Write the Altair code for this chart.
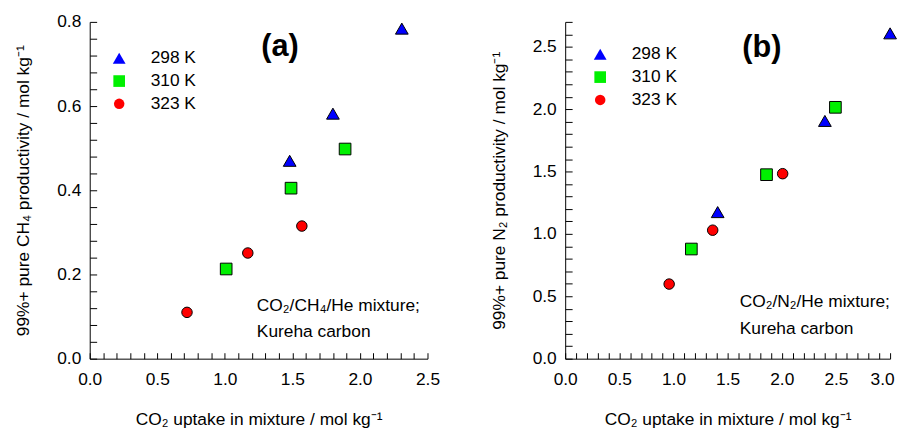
import altair as alt
import pandas as pd

# ---------------- data ----------------
temps = ["298 K", "310 K", "323 K"]
colors = ["#0000ff", "#00f000", "#ff0000"]
shapes = ["triangle-up", "square", "circle"]
sizes = [165, 112, 140]

# panel (a): CO2/CH4/He
a_x_298 = [1.48, 1.80, 2.31]
a_y_298 = [0.470, 0.582, 0.784]
a_x_310 = [1.01, 1.49, 1.89]
a_y_310 = [0.213, 0.405, 0.498]
a_x_323 = [0.72, 1.17, 1.57]
a_y_323 = [0.110, 0.251, 0.315]

# panel (b): CO2/N2/He
b_x_298 = [1.408, 2.398, 3.00]
b_y_298 = [1.175, 1.906, 2.608]
b_x_310 = [1.165, 1.859, 2.495]
b_y_310 = [0.879, 1.475, 2.015]
b_x_323 = [0.960, 1.362, 2.008]
b_y_323 = [0.598, 1.030, 1.483]

a_xlabels = [0.0, 0.5, 1.0, 1.5, 2.0, 2.5]
a_ylabels = [0.0, 0.2, 0.4, 0.6, 0.8]
b_xlabels = [0.0, 0.5, 1.0, 1.5, 2.0, 2.5, 3.0]
b_ylabels = [0.0, 0.5, 1.0, 1.5, 2.0, 2.5]

a_xticks = [round(i * 0.1, 2) for i in range(26)]
a_yticks = [round(i * 0.04, 2) for i in range(21)]
b_xticks = [round(i * 0.1, 2) for i in range(31)]
b_yticks = [round(i * 0.1, 2) for i in range(28)]

xtitle = "CO\u2082 uptake in mixture / mol kg\u207b\u00b9"
a_ytitle = "99%+ pure CH\u2084 productivity / mol kg\u207b\u00b9"
b_ytitle = "99%+ pure N\u2082 productivity / mol kg\u207b\u00b9"

a_notes = ["CO\u2082/CH\u2084/He mixture;", "Kureha carbon"]
a_note_x = [1.237, 1.237]
a_note_y = [0.113, 0.052]
b_notes = ["CO\u2082/N\u2082/He mixture;", "Kureha carbon"]
b_note_x = [1.612, 1.612]
b_note_y = [0.411, 0.197]

FONT = "Liberation Sans"
FS = 17.5


def points_df(xs_list, ys_list):
    rows = []
    for t, xs, ys in zip(temps, xs_list, ys_list):
        for x, y in zip(xs, ys):
            rows.append({"temp": t, "x": x, "y": y})
    return pd.DataFrame(rows)


def panel(df, xmax, ymax, xlabels, ylabels, xticks, yticks, ytitle,
          tag, tag_x, tag_y, notes, note_x, note_y, leg_x, leg_y, w, h,
          last_label_shift=0):
    xs = alt.Scale(domain=[0, xmax], nice=False, zero=False)
    ys = alt.Scale(domain=[0, ymax], nice=False, zero=False)
    leg = alt.Legend(
        title=None, orient="none", legendX=leg_x, legendY=leg_y,
        labelFontSize=FS, labelFont=FONT, labelColor="black",
        labelOffset=23, rowPadding=4, padding=0,
        symbolStrokeColor="black", symbolStrokeWidth=1, symbolOpacity=1,
    )
    xlab_offset = {"condition": {"test": f"datum.value === {xmax}",
                                 "value": last_label_shift}, "value": 0}
    pts = alt.Chart(df).mark_point(
        filled=True, stroke="black", strokeWidth=1, opacity=1
    ).encode(
        x=alt.X("x:Q", scale=xs, axis=alt.Axis(
            orient="bottom", values=xlabels, format=".1f", domain=True,
            ticks=False, tickSize=0, grid=False, labelFlush=False,
            labelOffset=xlab_offset,
            labelPadding=12, title=xtitle, titlePadding=23)),
        y=alt.Y("y:Q", scale=ys, axis=alt.Axis(
            orient="left", values=ylabels, format=".1f", domain=True,
            ticks=False, tickSize=0, grid=False, labelFlush=False,
            labelPadding=9, title=ytitle, titlePadding=24)),
        color=alt.Color("temp:N", scale=alt.Scale(domain=temps, range=colors), legend=leg),
        shape=alt.Shape("temp:N", scale=alt.Scale(domain=temps, range=shapes), legend=leg),
        size=alt.Size("temp:N", scale=alt.Scale(domain=temps, range=sizes), legend=leg),
    )
    tks = alt.Chart(df).mark_point(opacity=0, size=1).encode(
        x=alt.X("x:Q", scale=xs, axis=alt.Axis(
            orient="bottom", values=xticks, labels=False, domain=False,
            grid=False, ticks=True, tickSize=6, offset=-6, title=None)),
        y=alt.Y("y:Q", scale=ys, axis=alt.Axis(
            orient="left", values=yticks, labels=False, domain=False,
            grid=False, ticks=True, tickSize=7, offset=-7, title=None)),
    )
    tag_df = pd.DataFrame({"t": [tag], "x": [tag_x], "y": [tag_y]})
    tg = alt.Chart(tag_df).mark_text(
        font=FONT, fontSize=31, fontWeight="bold", color="black",
        align="center", baseline="middle"
    ).encode(
        x=alt.X("x:Q", scale=xs, axis=None),
        y=alt.Y("y:Q", scale=ys, axis=None),
        text="t:N",
    )
    note_df = pd.DataFrame({"t": notes, "x": note_x, "y": note_y})
    nt = alt.Chart(note_df).mark_text(
        font=FONT, fontSize=FS, color="black", align="left", baseline="alphabetic"
    ).encode(
        x=alt.X("x:Q", scale=xs, axis=None),
        y=alt.Y("y:Q", scale=ys, axis=None),
        text="t:N",
    )
    return alt.layer(pts, tks, tg, nt).resolve_axis(
        x="independent", y="independent"
    ).properties(width=w, height=h)


df_a = points_df([a_x_298, a_x_310, a_x_323], [a_y_298, a_y_310, a_y_323])
df_b = points_df([b_x_298, b_x_310, b_x_323], [b_y_298, b_y_310, b_y_323])

left = panel(df_a, 2.5, 0.8, a_xlabels, a_ylabels, a_xticks, a_yticks, a_ytitle,
             "(a)", 1.408, 0.74, a_notes, a_note_x, a_note_y, 21, 28, 341, 340)
right = panel(df_b, 3.0, 2.7, b_xlabels, b_ylabels, b_xticks, b_yticks, b_ytitle,
              "(b)", 1.816, 2.49, b_notes, b_note_x, b_note_y, 26.6, 24, 328, 340,
              last_label_shift=-8)

chart = alt.hconcat(left, right, spacing=139).resolve_scale(
    color="independent", shape="independent", size="independent"
).resolve_legend(
    color="independent", shape="independent", size="independent"
).properties(
    bounds="flush", padding={"left": 6.5, "top": 3, "right": 0, "bottom": 0}
).configure_view(stroke=None).configure_axis(
    labelFont=FONT, titleFont=FONT, labelFontSize=FS, titleFontSize=FS,
    labelColor="black", titleColor="black", titleFontWeight="normal",
    domainColor="black", tickColor="black", domainWidth=1, tickWidth=1,
)

chart.save("out.html", embed_options={"renderer": "svg", "actions": False})
